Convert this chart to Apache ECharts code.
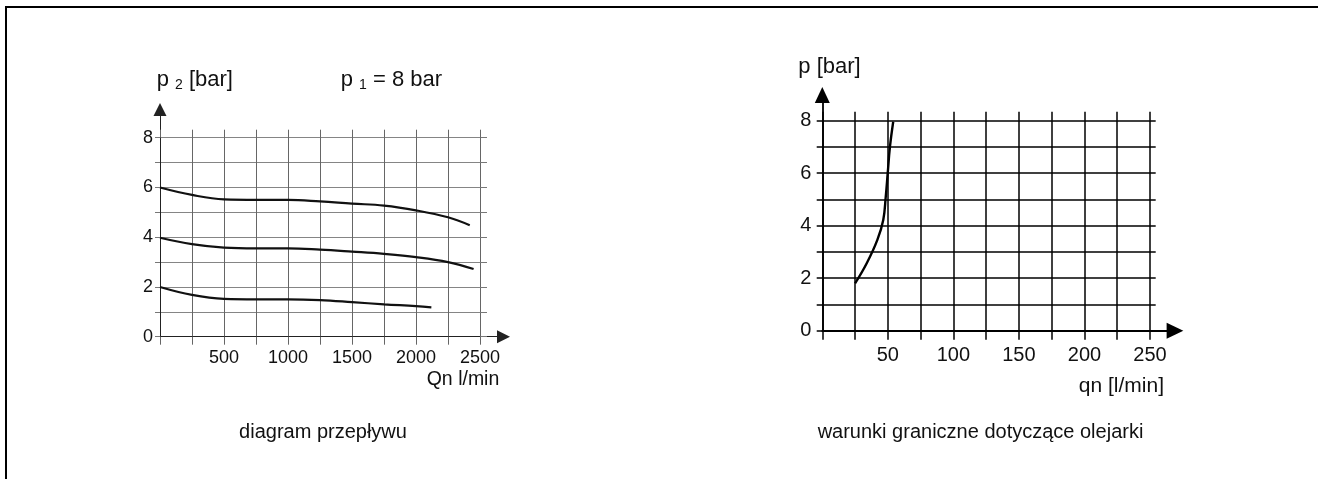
<!DOCTYPE html>
<html>
<head>
<meta charset="utf-8">
<script src="https://cdn.jsdelivr.net/npm/echarts@6/dist/echarts.min.js"></script>
<style>
html,body{margin:0;padding:0;background:#fff;}
#wrap{position:relative;width:1318px;height:479px;overflow:hidden;background:#fff;}
#c{position:absolute;left:0;top:0;width:1318px;height:479px;}
#frame{position:absolute;left:5px;top:6px;width:1400px;height:600px;border-top:2px solid #000;border-left:2px solid #000;pointer-events:none;}
</style>
</head>
<body>
<div id="wrap"><div id="c"></div><div id="frame"></div></div>
<script>
// ---- left chart: diagram przepływu (p1 = 8 bar) ----
const flowQTop = [0, 250, 500, 750, 1000, 1250, 1500, 1750, 2000, 2250, 2420];
const flowP2Top = [6.0, 5.7, 5.52, 5.5, 5.5, 5.44, 5.35, 5.27, 5.08, 4.8, 4.48];
const flowQMid = [0, 250, 500, 750, 1000, 1250, 1500, 1750, 2000, 2250, 2450];
const flowP2Mid = [3.98, 3.72, 3.58, 3.55, 3.55, 3.5, 3.42, 3.33, 3.2, 3.0, 2.72];
const flowQLow = [0, 250, 500, 750, 1000, 1250, 1500, 1750, 2000, 2120];
const flowP2Low = [2.0, 1.68, 1.52, 1.5, 1.5, 1.47, 1.39, 1.3, 1.23, 1.18];
const flowXTickLabels = [500, 1000, 1500, 2000, 2500];
const flowYTickLabels = [0, 2, 4, 6, 8];

// ---- right chart: warunki graniczne dotyczące olejarki ----
const oilQ = [25, 33.9, 42, 46.5, 48.4, 49.9, 51.6, 54.1];
const oilP = [1.8, 2.57, 3.46, 4.22, 5.1, 6.0, 7.0, 7.96];
const oilXTickLabels = [50, 100, 150, 200, 250];
const oilYTickLabels = [0, 2, 4, 6, 8];

const FONT = "'Liberation Sans', Arial, Helvetica, sans-serif";
const pairs = (xs, ys) => xs.map((x, i) => [x, ys[i]]);
const pick = (list) => (v) => (list.indexOf(v) >= 0 ? String(v) : '');

const chart = echarts.init(document.getElementById('c'), null, {renderer: 'canvas'});

const hidden = {
  axisLine: {show: false, onZero: false},
  axisTick: {show: false},
  axisLabel: {show: false},
  splitLine: {show: false}
};

const option = {
  animation: false,
  backgroundColor: '#fff',
  grid: [
    {left: 160, top: 137.7, width: 320, height: 199},
    {left: 160, top: 109.5, width: 343.5, height: 227.2},
    {left: 822.3, top: 120.7, width: 327.7, height: 210},
    {left: 822.3, top: 95, width: 352.7, height: 235.7}
  ],
  xAxis: [
    // 0 left data
    {gridIndex: 0, type: 'value', min: 0, max: 2500, interval: 250,
      axisLine: {show: false, onZero: false},
      axisTick: {show: true, length: 8, lineStyle: {color: '#666', width: 1}},
      axisLabel: {formatter: pick(flowXTickLabels), fontSize: 18, fontFamily: FONT, color: '#111', margin: 12},
      splitLine: {show: true, lineStyle: {color: '#666', width: 1}}},
    // 1 left top ticks
    {gridIndex: 0, type: 'value', position: 'top', min: 0, max: 2500, interval: 250,
      axisLine: {show: false, onZero: false},
      axisTick: {show: true, length: 8, lineStyle: {color: '#666', width: 1}},
      axisLabel: {show: false}, splitLine: {show: false}},
    // 2 left arrow
    {gridIndex: 1, type: 'value', min: 0, max: 1,
      axisLine: {show: true, onZero: false, symbol: ['none', 'triangle'], symbolSize: [13, 13],
        lineStyle: {color: '#222', width: 1}},
      axisTick: {show: false}, axisLabel: {show: false}, splitLine: {show: false}},
    // 3 right data
    {gridIndex: 2, type: 'value', min: 0, max: 250, interval: 25,
      axisLine: {show: false, onZero: false},
      axisTick: {show: true, length: 9, lineStyle: {color: '#000', width: 1.5}},
      axisLabel: {formatter: pick(oilXTickLabels), fontSize: 20, fontFamily: FONT, color: '#111', margin: 15},
      splitLine: {show: true, lineStyle: {color: '#000', width: 1.5}}},
    // 4 right top ticks
    {gridIndex: 2, type: 'value', position: 'top', min: 0, max: 250, interval: 25,
      axisLine: {show: false, onZero: false},
      axisTick: {show: true, length: 9, lineStyle: {color: '#000', width: 1.5}},
      axisLabel: {show: false}, splitLine: {show: false}},
    // 5 right arrow
    {gridIndex: 3, type: 'value', min: 0, max: 1,
      axisLine: {show: true, onZero: false, symbol: ['none', 'triangle'], symbolSize: [16, 16.7],
        lineStyle: {color: '#000', width: 1.8}},
      axisTick: {show: false}, axisLabel: {show: false}, splitLine: {show: false}}
  ],
  yAxis: [
    // 0 left data
    {gridIndex: 0, type: 'value', min: 0, max: 8, interval: 1,
      axisLine: {show: false, onZero: false},
      axisTick: {show: true, length: 5, lineStyle: {color: '#777', width: 1}},
      axisLabel: {formatter: pick(flowYTickLabels), fontSize: 18, fontFamily: FONT, color: '#111', margin: 7},
      splitLine: {show: true, lineStyle: {color: '#858585', width: 1}}},
    // 1 left right ticks
    {gridIndex: 0, type: 'value', position: 'right', min: 0, max: 8, interval: 1,
      axisLine: {show: false, onZero: false},
      axisTick: {show: true, length: 7, lineStyle: {color: '#777', width: 1}},
      axisLabel: {show: false}, splitLine: {show: false}},
    // 2 left arrow
    {gridIndex: 1, type: 'value', min: 0, max: 1,
      axisLine: {show: true, onZero: false, symbol: ['none', 'triangle'], symbolSize: [13, 13],
        lineStyle: {color: '#222', width: 1}},
      axisTick: {show: false}, axisLabel: {show: false}, splitLine: {show: false}},
    // 3 right data
    {gridIndex: 2, type: 'value', min: 0, max: 8, interval: 1,
      axisLine: {show: false, onZero: false},
      axisTick: {show: true, length: 5.6, lineStyle: {color: '#000', width: 1.5}},
      axisLabel: {formatter: pick(oilYTickLabels), fontSize: 20, fontFamily: FONT, color: '#111', margin: 11},
      splitLine: {show: true, lineStyle: {color: '#000', width: 1.5}}},
    // 4 right right ticks
    {gridIndex: 2, type: 'value', position: 'right', min: 0, max: 8, interval: 1,
      axisLine: {show: false, onZero: false},
      axisTick: {show: true, length: 5.7, lineStyle: {color: '#000', width: 1.5}},
      axisLabel: {show: false}, splitLine: {show: false}},
    // 5 right arrow
    {gridIndex: 3, type: 'value', min: 0, max: 1,
      axisLine: {show: true, onZero: false, symbol: ['none', 'triangle'], symbolSize: [15, 16],
        lineStyle: {color: '#000', width: 1.8}},
      axisTick: {show: false}, axisLabel: {show: false}, splitLine: {show: false}}
  ],
  series: [
    {type: 'line', xAxisIndex: 0, yAxisIndex: 0, data: pairs(flowQTop, flowP2Top), smooth: 0.4,
      showSymbol: false, lineStyle: {color: '#111', width: 2.2}, z: 5},
    {type: 'line', xAxisIndex: 0, yAxisIndex: 0, data: pairs(flowQMid, flowP2Mid), smooth: 0.4,
      showSymbol: false, lineStyle: {color: '#111', width: 2.2}, z: 5},
    {type: 'line', xAxisIndex: 0, yAxisIndex: 0, data: pairs(flowQLow, flowP2Low), smooth: 0.4,
      showSymbol: false, lineStyle: {color: '#111', width: 2.2}, z: 5},
    {type: 'line', xAxisIndex: 3, yAxisIndex: 3, data: pairs(oilQ, oilP), smooth: 0.4,
      showSymbol: false, lineStyle: {color: '#000', width: 2.4}, z: 5}
  ],
  graphic: [
    {type: 'text', x: 156.7, y: 80, style: {
      text: '{a|p }{s|2}{a| [bar]}', align: 'left', verticalAlign: 'middle', textAlign: 'left', textVerticalAlign: 'middle',
      rich: {a: {fontSize: 22, fontFamily: FONT, fill: '#111', color: '#111', lineHeight: 24},
             s: {fontSize: 14, fontFamily: FONT, fill: '#111', color: '#111', lineHeight: 16, verticalAlign: 'bottom'}}}},
    {type: 'text', x: 340.7, y: 80, style: {
      text: '{a|p }{s|1}{a| = 8 bar}', align: 'left', verticalAlign: 'middle', textAlign: 'left', textVerticalAlign: 'middle',
      rich: {a: {fontSize: 22, fontFamily: FONT, fill: '#111', color: '#111', lineHeight: 24},
             s: {fontSize: 14, fontFamily: FONT, fill: '#111', color: '#111', lineHeight: 16, verticalAlign: 'bottom'}}}},
    {type: 'text', x: 499.3, y: 380, style: {
      text: 'Qn l/min', fontSize: 19.5, fontFamily: FONT, fill: '#111',
      align: 'right', verticalAlign: 'middle', textAlign: 'right', textVerticalAlign: 'middle'}},
    {type: 'text', x: 798.3, y: 67, style: {
      text: 'p [bar]', fontSize: 22, fontFamily: FONT, fill: '#111',
      align: 'left', verticalAlign: 'middle', textAlign: 'left', textVerticalAlign: 'middle'}},
    {type: 'text', x: 1164, y: 386, style: {
      text: 'qn [l/min]', fontSize: 21, fontFamily: FONT, fill: '#111',
      align: 'right', verticalAlign: 'middle', textAlign: 'right', textVerticalAlign: 'middle'}},
    {type: 'text', x: 323, y: 432, style: {
      text: 'diagram przepływu', fontSize: 20, fontFamily: FONT, fill: '#111',
      align: 'center', verticalAlign: 'middle', textAlign: 'center', textVerticalAlign: 'middle'}},
    {type: 'text', x: 980.5, y: 432, style: {
      text: 'warunki graniczne dotyczące olejarki', fontSize: 20, fontFamily: FONT, fill: '#111',
      align: 'center', verticalAlign: 'middle', textAlign: 'center', textVerticalAlign: 'middle'}}
  ]
};
chart.setOption(option);
</script>
</body>
</html>
